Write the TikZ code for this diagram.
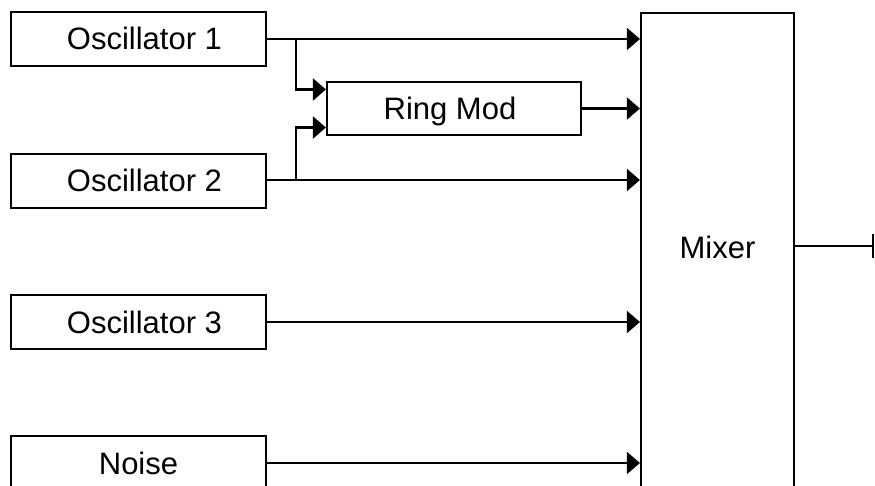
\documentclass[tikz,border=0pt]{standalone}
\usepackage{fontspec}
\setmainfont{Liberation Sans}
\usetikzlibrary{arrows.meta}
\begin{document}
\begin{tikzpicture}[x=1pt,y=-1pt,
  box/.style={draw, line width=2.2pt, minimum width=255pt, minimum height=54pt, inner sep=0pt,
    font=\fontsize{31}{36}\selectfont, text height=22pt, text depth=0pt},
  lbl/.style={inner sep=0pt, font=\fontsize{31}{36}\selectfont, text height=22pt, text depth=0pt},
  wire/.style={line width=2.2pt},
  conn/.style={wire, -{Triangle[length=13pt,width=22pt]}}]
\useasboundingbox (0,0) rectangle (875,486);
\node[box] (osc1) at (138.5,39) {\hspace*{12pt}Oscillator 1};
\node[box] (osc2) at (138.5,181) {\hspace*{12pt}Oscillator 2};
\node[box] (osc3) at (138.5,322) {\hspace*{12pt}Oscillator 3};
\node[box] (noise) at (138.5,463) {Noise};
\node[box, minimum width=254pt, minimum height=53pt] (ring) at (454,108.5) {Ring Mod\hspace*{8pt}};
\node[box, minimum width=153pt, minimum height=490pt, anchor=north] (mixer) at (717.5,12) {};
\node[lbl] (mixlabel) at (717.5,248) {Mixer};
\coordinate (b1) at (296,39);
\coordinate (b2) at (296,180);
\coordinate (outend) at (874,246);
\coordinate (mixout) at (794,246);
\draw[conn] (osc1.east) -- (osc1.east -| mixer.west);
\draw[conn] (b1) |- ([yshift=19pt]ring.west);
\draw[conn] (b2) |- ([yshift=-19pt]ring.west);
\draw[conn] (osc2.east |- b2) -- (b2 -| mixer.west);
\draw[conn] (ring.east) -- (ring.east -| mixer.west);
\draw[conn] (osc3.east) -- (osc3.east -| mixer.west);
\draw[conn] (noise.east) -- (noise.east -| mixer.west);
\draw[wire, -{Bar[width=24pt]}] (mixout) -- (outend);
\end{tikzpicture}
\end{document}
